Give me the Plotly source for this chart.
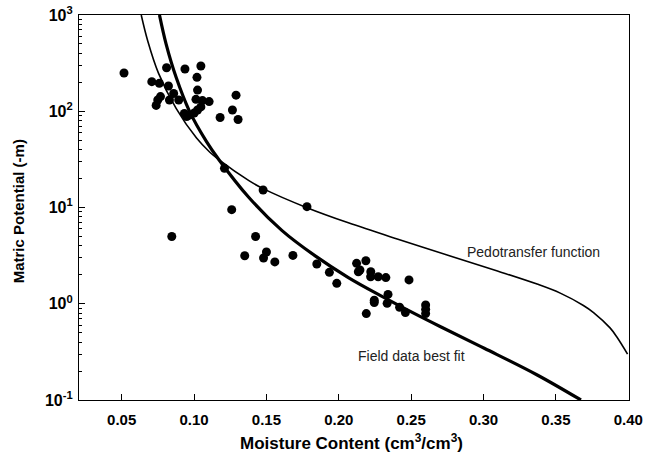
import plotly.graph_objects as go

# Measured field data
theta_obs = [0.0516, 0.0708, 0.076, 0.081, 0.0937, 0.1047, 0.102, 0.0823, 0.0859, 0.1024,
             0.0768, 0.0749, 0.083, 0.0894, 0.0738, 0.1013, 0.1058, 0.1104, 0.1047, 0.1024,
             0.1001, 0.0967, 0.0933, 0.0949, 0.129, 0.1265, 0.118, 0.1304, 0.121, 0.1477,
             0.178, 0.126, 0.0846, 0.1425, 0.135, 0.148, 0.150, 0.1558, 0.1683, 0.1848,
             0.1935, 0.1986, 0.2123, 0.2187, 0.2146, 0.2135, 0.2221, 0.222, 0.2272, 0.2325,
             0.2485, 0.234, 0.2245, 0.2245, 0.2334, 0.242, 0.246, 0.219, 0.260, 0.260, 0.260]
h_obs = [250, 203, 195, 283, 275, 295, 225, 183, 153, 166,
         142, 131, 131, 131, 115, 133, 129, 126, 111, 103,
         96, 91, 95, 88, 147, 103, 86, 82, 25.5, 15.2,
         10.2, 9.5, 5.0, 5.0, 3.15, 2.99, 3.45, 2.72, 3.18, 2.59,
         2.12, 1.63, 2.63, 2.80, 2.24, 2.15, 2.15, 1.91, 1.91, 1.87,
         1.77, 1.25, 1.09, 1.03, 1.01, 0.92, 0.81, 0.79, 0.97, 0.875, 0.79]

# Pedotransfer function curve
theta_ptf = [0.0635, 0.068, 0.0754, 0.0876, 0.1017, 0.1109, 0.1173, 0.1379, 0.1477, 0.178,
             0.2066, 0.2409, 0.2775, 0.3096, 0.337, 0.353, 0.369, 0.376, 0.3874, 0.392, 0.3995]
h_ptf = [1000, 537, 249, 107, 52.6, 37.5, 31.2, 19.0, 15.7, 9.95,
         6.93, 4.68, 3.12, 2.19, 1.60, 1.29, 0.96, 0.81, 0.561, 0.454, 0.30]

# Field data best fit curve
theta_fit = [0.0761, 0.0807, 0.0876, 0.0967, 0.1086, 0.1173, 0.1379, 0.1608, 0.1837,
             0.2066, 0.2295, 0.2524, 0.2707, 0.3005, 0.3371, 0.3673]
h_fit = [1000, 498, 225, 101, 48.4, 31.2, 12.7, 5.75, 3.14,
         1.87, 1.20, 0.789, 0.573, 0.345, 0.182, 0.1]

x_ticks = [0.05, 0.10, 0.15, 0.20, 0.25, 0.30, 0.35, 0.40]
x_tick_labels = ["0.05", "0.10", "0.15", "0.20", "0.25", "0.30", "0.35", "0.40"]
y_ticks = [0.1, 1, 10, 100, 1000]
y_tick_labels = ["10<sup>-1</sup>", "10<sup>0</sup>", "10<sup>1</sup>", "10<sup>2</sup>", "10<sup>3</sup>"]

minor_y = [m * d for d in (0.1, 1, 10, 100) for m in range(2, 10)]

FONT = "Arial, Liberation Sans, sans-serif"

fig = go.Figure()
fig.add_trace(go.Scatter(x=theta_ptf, y=h_ptf, mode="lines", line_shape="spline",
                         line=dict(color="black", width=1.6), showlegend=False))
fig.add_trace(go.Scatter(x=theta_fit, y=h_fit, mode="lines", line_shape="spline",
                         line=dict(color="black", width=3.2), showlegend=False))
fig.add_trace(go.Scatter(x=theta_obs, y=h_obs, mode="markers",
                         marker=dict(color="black", size=9), showlegend=False))

fig.add_annotation(x=0.3347, y=0.541, xref="x", yref="y", yanchor="middle", xanchor="center",
                   text="Pedotransfer function", showarrow=False,
                   font=dict(family=FONT, size=14, color="#222"))
fig.add_annotation(x=0.2499, y=-0.543, xref="x", yref="y", yanchor="middle", xanchor="center",
                   text="Field data best fit", showarrow=False,
                   font=dict(family=FONT, size=14, color="#222"))

# Axis titles
fig.add_annotation(x=0.496, y=-0.109, xref="paper", yref="paper", xanchor="center", yanchor="middle",
                   text="Moisture Content (cm<sup>3</sup>/cm<sup>3</sup>)", showarrow=False,
                   font=dict(family=FONT, size=17, color="black", weight="bold"))
fig.add_annotation(x=-0.111, y=0.49, xref="paper", yref="paper", xanchor="center", yanchor="middle",
                   text="Matric Potential (-m)", showarrow=False, textangle=-90,
                   font=dict(family=FONT, size=15, color="black", weight="bold"))

fig.update_layout(
    width=649, height=461,
    margin=dict(l=79, r=20, t=15, b=61),
    paper_bgcolor="white", plot_bgcolor="white",
    font=dict(family=FONT, color="black"),
)
fig.update_xaxes(
    range=[0.0205, 0.4005], tickvals=x_ticks, ticktext=x_tick_labels,
    ticks="inside", ticklen=6, tickwidth=1.2, tickcolor="black",
    showline=True, linecolor="black", linewidth=1.2, mirror=True,
    showgrid=False, zeroline=False, automargin=False, ticklabelstandoff=6,
    tickfont=dict(family=FONT, size=15, color="black", weight="bold"),
)
fig.update_yaxes(
    type="log", range=[-1, 3], tickvals=y_ticks, ticktext=y_tick_labels,
    ticks="inside", ticklen=6, tickwidth=1.2, tickcolor="black",
    minor=dict(tickvals=minor_y, ticks="inside", ticklen=3, tickwidth=1, tickcolor="black", showgrid=False),
    showline=True, linecolor="black", linewidth=1.2, mirror=True,
    showgrid=False, zeroline=False, automargin=False, ticklabelstandoff=2,
    tickfont=dict(family=FONT, size=16, color="black", weight="bold"),
)

fig.write_html("out.html", config={"displayModeBar": False},
               post_script="document.body.style.margin='0';document.body.style.overflow='hidden';")
